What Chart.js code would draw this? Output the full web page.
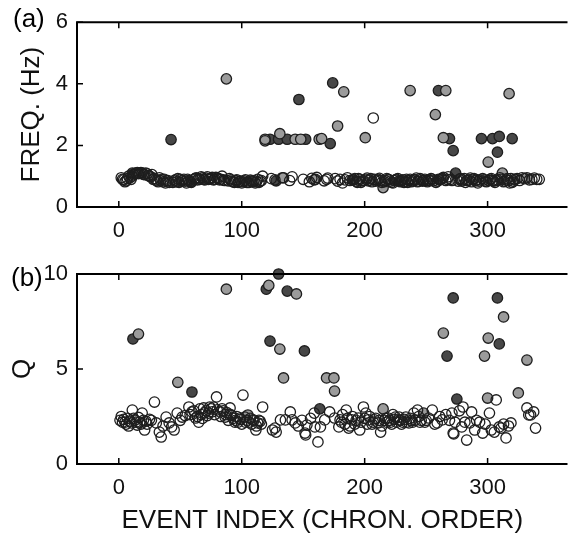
<!DOCTYPE html>
<html>
<head>
<meta charset="utf-8">
<script src="https://cdn.jsdelivr.net/npm/chart.js@4.4.1/dist/chart.umd.min.js"></script>
<style>
body { margin: 0; background: #fff; }
canvas { position: absolute; left: 0; }
#freqChart { top: 0; }
#qChart { top: 250px; }
</style>
</head>
<body>
<canvas id="freqChart" width="574" height="250" style="width:574px;height:250px"></canvas>
<canvas id="qChart" width="574" height="286" style="width:574px;height:286px"></canvas>
<script>
// tick labels
const xTicks = [0, 100, 200, 300];
const freqTicks = [0, 2, 4, 6];
const qTicks = [0, 5, 10];

// (a) frequency, [event index, Hz]
const freqOpen = [
  [2,0.95],[4,0.88],[5,0.82],[7,0.92],[8,1.0],[10,0.9],[12,1.05],[14,1.1],[16,1.08],[18,1.12],[20,1.06],[22,1.1],
  [24,1.02],[26,0.98],[27,1.05],[29,0.93],[31,0.85],[33,0.95],[35,0.9],[36,0.82],[38,0.78],[40,0.86],[44,0.8],
  [46,0.88],[48,0.92],[51,0.84],[53,0.9],[55,0.78],[57,0.86],[62,0.92],[64,0.88],[66,0.9],[68,0.95],[70,0.88],
  [72,0.98],[74,0.92],[76,0.96],[78,0.9],[80,0.94],[82,0.88],[84,1.0],[86,0.86],[90,0.92],[92,0.84],[94,0.8],
  [96,0.88],[98,0.83],[100,0.78],[102,0.85],[104,0.8],[107,0.87],[109,0.82],[111,0.78],[113,0.9],[115,0.84],[117,1.0],
  [3,0.9],[6,0.85],[9,0.95],[11,1.0],[13,1.08],[15,1.12],[19,1.1],[21,1.05],[23,1.08],[25,1.0],[28,0.9],[30,0.88],
  [32,0.82],[34,0.86],[37,0.9],[39,0.84],[41,0.8],[45,0.85],[47,0.82],[50,0.9],[52,0.86],[54,0.84],[56,0.9],
  [58,0.82],[61,0.88],[63,0.95],[65,0.92],[67,0.98],[69,0.9],[71,0.94],[73,0.9],[75,0.92],[77,0.88],[79,0.96],
  [81,0.92],[83,0.9],[85,0.88],[89,0.85],[91,0.88],[93,0.82],[95,0.86],[97,0.8],[99,0.84],[101,0.82],[103,0.88],
  [106,0.8],[108,0.84],[110,0.86],[112,0.82],[114,0.8],[116,0.86],
  [124,0.92],[127,0.88],[133,0.95],[139,0.86],[141,0.98],[150,0.9],[155,0.82],[157,0.93],[159,0.88],[161,0.96],
  [167,0.85],[169,0.9],[170,0.94],[176,0.92],[178,0.84],[180,0.9],[182,0.78],[184,0.88],[186,0.95],[188,0.86],
  [192,0.92],[194,0.8],[196,0.9],[198,0.85],[202,0.94],[204,0.88],[206,0.82],[208,0.9],[210,0.87],[212,0.93],
  [214,0.8],[217,0.86],[219,0.9],[221,0.84],[223,0.78],[225,0.88],[227,0.92],[230,0.85],[232,0.8],[234,0.9],
  [236,0.86],[238,0.82],[240,0.88],[242,0.94],[244,0.84],[246,0.9],[248,0.86],[252,0.88],[254,0.92],[256,0.85],
  [258,0.8],[262,0.9],[264,0.96],[266,0.86],[268,0.98],[270,0.9],[276,0.84],[278,0.92],[280,0.88],[282,0.8],
  [284,0.86],[286,0.94],[288,0.9],[290,0.85],[292,0.78],[294,0.88],[296,0.92],[298,0.84],[302,0.9],[304,0.86],
  [306,0.8],[308,0.88],[310,0.95],[314,0.84],[316,0.92],[318,0.78],[320,0.8],[322,0.9],[326,0.86],[328,0.95],
  [330,0.92],[334,0.88],[336,0.9],[338,0.94],[340,0.9],[342,0.9],[119,2.15],[207,2.89],
  [191,0.88],[193,0.84],[195,0.92],[197,0.8],[199,0.86],[201,0.9],[203,0.85],[205,0.92],[209,0.84],[211,0.9],
  [213,0.86],[216,0.82],[218,0.92],[220,0.88],[222,0.8],[224,0.86],[226,0.9],[229,0.82],[231,0.88],[233,0.84],
  [235,0.8],[237,0.9],[239,0.85],[241,0.88],[243,0.82],[245,0.92],[247,0.84],[249,0.9],[251,0.82],[253,0.86],
  [255,0.9],[259,0.84],[261,0.88],[263,0.92],[267,0.9],[271,0.86],[277,0.9],[279,0.84],[281,0.92],[283,0.86],
  [285,0.88],[287,0.82],[289,0.92],[291,0.88],[293,0.84],[297,0.88],[299,0.82],[301,0.86],[303,0.92],[305,0.84],
  [307,0.86],[311,0.9],[313,0.82],[315,0.88],[317,0.86],[319,0.92],[321,0.84]
];
const freqGray = [
  [87.5,4.16],[119,2.2],[131,2.38],[143.5,2.2],[148,2.2],[163,2.2],[165,2.22],[178,2.63],[183,3.74],[200.5,2.25],
  [237,3.78],[257.5,3.0],[264,2.25],[266,3.78],[300.5,1.46],[317.5,3.68],
  [17,1.1],[49,0.8],[105,0.8],[134,0.95],[215,0.63],[312,1.1],[324,0.92],[332,0.95],[160,0.9],[250,0.85]
];
const freqDark = [
  [42.5,2.19],[123,2.2],[130,2.2],[137,2.2],[152,2.2],[172,2.06],[146.5,3.49],[174,4.03],[260,3.78],[269,2.22],
  [272,1.83],[295,2.22],[304,2.22],[309.5,2.29],[320,2.22],[308,1.78],
  [11,1.1],[59,0.8],[274,1.1],[128,0.85],[190,0.88],[228,0.85],[260,0.9]
];

// (b) quality factor, [event index, Q]
const qOpen = [
  [2,2.5],[3,2.2],[4,2.35],[6,2.1],[7,2.4],[9,2.25],[10.5,2.16],[11,2.84],[13,2.3],[15,2.05],[17,2.2],[19,2.68],
  [21,1.79],[23,2.1],[25,2.35],[26.5,2.3],[29,3.26],[30.5,2.16],[33,1.68],[34.5,1.42],[36,2.0],[38.5,2.47],
  [41,2.16],[43,1.95],[45,1.79],[47.5,2.68],[50,2.3],[51.5,2.47],[54,2.55],[57,3.0],[59.5,2.74],[62.5,2.42],
  [65,2.2],[67,2.6],[69,2.95],[71,2.8],[73,2.68],[75,2.9],[77,3.0],[79.5,3.53],[82.5,2.74],[84,2.9],[86.5,2.47],
  [88,2.7],[90.5,2.95],[92,2.55],[94.5,2.2],[96,2.5],[98.5,2.42],[101,3.63],[102.5,2.47],[104,2.3],[107,2.4],
  [109,2.32],[111.5,1.79],[113,2.16],[115,2.25],[117,3.0],
  [1,2.3],[5,2.2],[8,2.0],[12,2.4],[14,2.2],[16,2.45],[18,2.1],[20,2.3],[22,2.25],
  [58,2.6],[61,2.8],[64,2.5],[66,2.9],[68,2.4],[70,2.7],[72,2.55],[74,3.0],[76,2.75],[78,2.6],[80,2.85],[83,2.5],
  [85,2.8],[87,2.6],[89,2.3],[91,2.6],[93,2.4],[95,2.3],[97,2.2],[99,2.35],[100,2.1],[103,2.2],[106,2.2],[108,2.1],
  [110,2.3],[112,2.0],[114,2.3],[116,2.1],
  [125,1.79],[127,1.89],[128,1.68],[131.5,2.32],[135.5,2.32],[139.5,2.74],[141,2.32],[143.5,2.16],[146,2.0],
  [149,2.3],[151.5,1.63],[152,1.53],[153,2.05],[156,2.4],[159,2.68],[159.5,1.95],[162,1.16],[164,1.95],
  [167.5,2.32],[171.5,2.74],[175.5,2.42],[179,1.95],[180,2.32],[182,2.6],[185,2.84],[187,1.89],[189.5,2.32],
  [192,2.1],[195,2.42],[196,1.79],[199,3.0],[201,2.68],[203,2.32],[206,2.1],[208,2.32],[211,2.16],[213,1.68],
  [216,2.3],[219,2.42],[221,2.2],[223,2.6],[225,2.47],[227.5,2.32],[228,2.47],[231,2.2],[233.5,2.47],[236,2.16],
  [238,2.3],[240,2.68],[243,2.84],[245,2.2],[250,2.3],[252,2.42],[255,2.84],[257,2.1],[259,2.16],[261,2.5],
  [181,2.2],[184,2.1],[186,2.4],[188,2.0],[190,2.5],[193,2.3],[197,2.2],[200,2.4],[202,2.1],[204,2.5],[207,2.2],
  [209,2.4],[212,2.3],[214,2.0],[217,2.4],[218,2.2],[220,2.3],[222,2.1],[224,2.35],[226,2.2],[229,2.3],[230,2.1],
  [232,2.35],[234,2.2],[237,2.4],[239,2.2],[241,2.3],[244,2.5],[246,2.3],[249,2.2],
  [263,2.32],[266,2.6],[269,2.3],[271,2.68],[272,1.63],[272.5,1.58],[273.5,2.2],[277,2.8],[279,1.95],[280,3.0],
  [281.5,2.2],[283,1.26],[285.5,2.16],[287,2.74],[289.5,1.79],[291,2.3],[293.5,2.2],[296,1.63],[298,2.1],
  [301.5,2.68],[303,1.79],[305.5,1.68],[307,3.37],[309.5,1.95],[311,1.89],[313,2.1],[315,1.37],[317,2.0],
  [319,2.16],[332,2.95],[333.5,2.58],[335,2.58],[337.5,2.74],[339,1.89]
];
const qGray = [
  [16,6.84],[87.5,9.2],[122,9.4],[131,6.05],[134,4.53],[144.5,8.95],[48,4.3],[105,2.58],[169,4.53],[175,4.53],
  [175.5,3.84],[215,2.9],[248,2.68],[313,7.74],[264,6.89],[300.5,6.63],[297.5,5.68],[332,5.47],[325,3.74],[300,3.47]
];
const qDark = [
  [11.5,6.58],[120,9.2],[130,10.0],[137,9.1],[123,6.47],[59.5,3.79],[151,5.95],[163.5,2.9],[272,8.74],[308,8.74],
  [267,5.68],[309.5,6.32],[275,3.42]
];

const FONT = '"Liberation Sans", Arial, Helvetica, sans-serif';

// box on three sides with inward ticks, plus the panel tag
const framePlugin = {
  id: 'frame',
  afterDraw(chart, args, opts) {
    const ctx = chart.ctx, a = chart.chartArea;
    const xs = chart.scales.x, ys = chart.scales.y;
    ctx.save();
    ctx.strokeStyle = '#000';
    ctx.lineWidth = 2;
    ctx.beginPath();
    ctx.moveTo(a.right, a.top);
    ctx.lineTo(a.left, a.top);
    ctx.lineTo(a.left, a.bottom);
    ctx.lineTo(a.right, a.bottom);
    ctx.stroke();
    ctx.lineWidth = 1.5;
    ctx.beginPath();
    xs.ticks.forEach(t => {
      const px = xs.getPixelForValue(t.value);
      ctx.moveTo(px, a.bottom); ctx.lineTo(px, a.bottom - 6);
      ctx.moveTo(px, a.top); ctx.lineTo(px, a.top + 6);
    });
    ys.ticks.forEach(t => {
      const py = ys.getPixelForValue(t.value);
      ctx.moveTo(a.left, py); ctx.lineTo(a.left + 6, py);
    });
    ctx.stroke();
    ctx.fillStyle = '#000';
    ctx.font = '26px ' + FONT;
    ctx.textAlign = 'left';
    ctx.textBaseline = 'middle';
    ctx.fillText(opts.tag, opts.tagX, opts.tagY);
    ctx.restore();
  }
};

function pts(list) {
  return list.map(p => ({ x: p[0], y: p[1] }));
}

function marker(data, fill) {
  return {
    data: pts(data),
    pointRadius: 5.2,
    pointBorderWidth: 1.3,
    pointBorderColor: '#1e1e1e',
    pointBackgroundColor: fill,
    clip: false
  };
}

function makePanel(id, o) {
  new Chart(document.getElementById(id), {
    type: 'scatter',
    data: {
      datasets: [
        marker(o.open, 'rgba(0,0,0,0)'),
        marker(o.gray, '#9b9b9b'),
        marker(o.dark, '#474747')
      ]
    },
    options: {
      responsive: false,
      animation: false,
      layout: { padding: { top: o.top, left: 0, right: 0, bottom: 0 } },
      plugins: {
        legend: { display: false },
        tooltip: { enabled: false },
        frame: { tag: o.tag, tagX: o.tagX, tagY: o.tagY }
      },
      scales: {
        x: {
          type: 'linear',
          min: -34,
          max: 365,
          afterBuildTicks: s => { s.ticks = xTicks.map(v => ({ value: v })); },
          afterFit: s => { s.height = o.xHeight; },
          grid: { display: false, drawTicks: false },
          border: { display: false },
          ticks: { padding: 11, color: '#111', font: { family: FONT, size: 22 } },
          title: {
            display: !!o.xTitle,
            text: o.xTitle,
            color: '#111',
            padding: { top: 0, bottom: 0 },
            font: { family: FONT, size: 26 }
          }
        },
        y: {
          min: 0,
          max: o.yMax,
          afterBuildTicks: s => { s.ticks = o.yTicks.map(v => ({ value: v })); },
          afterFit: s => { s.width = 77; },
          grid: { display: false, drawTicks: false },
          border: { display: false },
          ticks: { padding: 9, color: '#111', font: { family: FONT, size: 22 } },
          title: {
            display: true,
            text: o.yTitle,
            color: '#111',
            padding: { top: o.yTitlePad, bottom: 0 },
            font: { family: FONT, size: 26 }
          }
        }
      }
    },
    plugins: [framePlugin]
  });
}

makePanel('freqChart', {
  open: freqOpen, gray: freqGray, dark: freqDark,
  yMax: 6, yTicks: freqTicks, yTitle: 'FREQ. (Hz)', yTitlePad: 16,
  top: 18, xHeight: 43, xTitle: '',
  tag: '(a)', tagX: 13, tagY: 20
});

makePanel('qChart', {
  open: qOpen, gray: qGray, dark: qDark,
  yMax: 10, yTicks: qTicks, yTitle: 'Q', yTitlePad: 7,
  top: 24, xHeight: 72, xTitle: 'EVENT INDEX (CHRON. ORDER)',
  tag: '(b)', tagX: 11, tagY: 29
});
</script>
</body>
</html>
